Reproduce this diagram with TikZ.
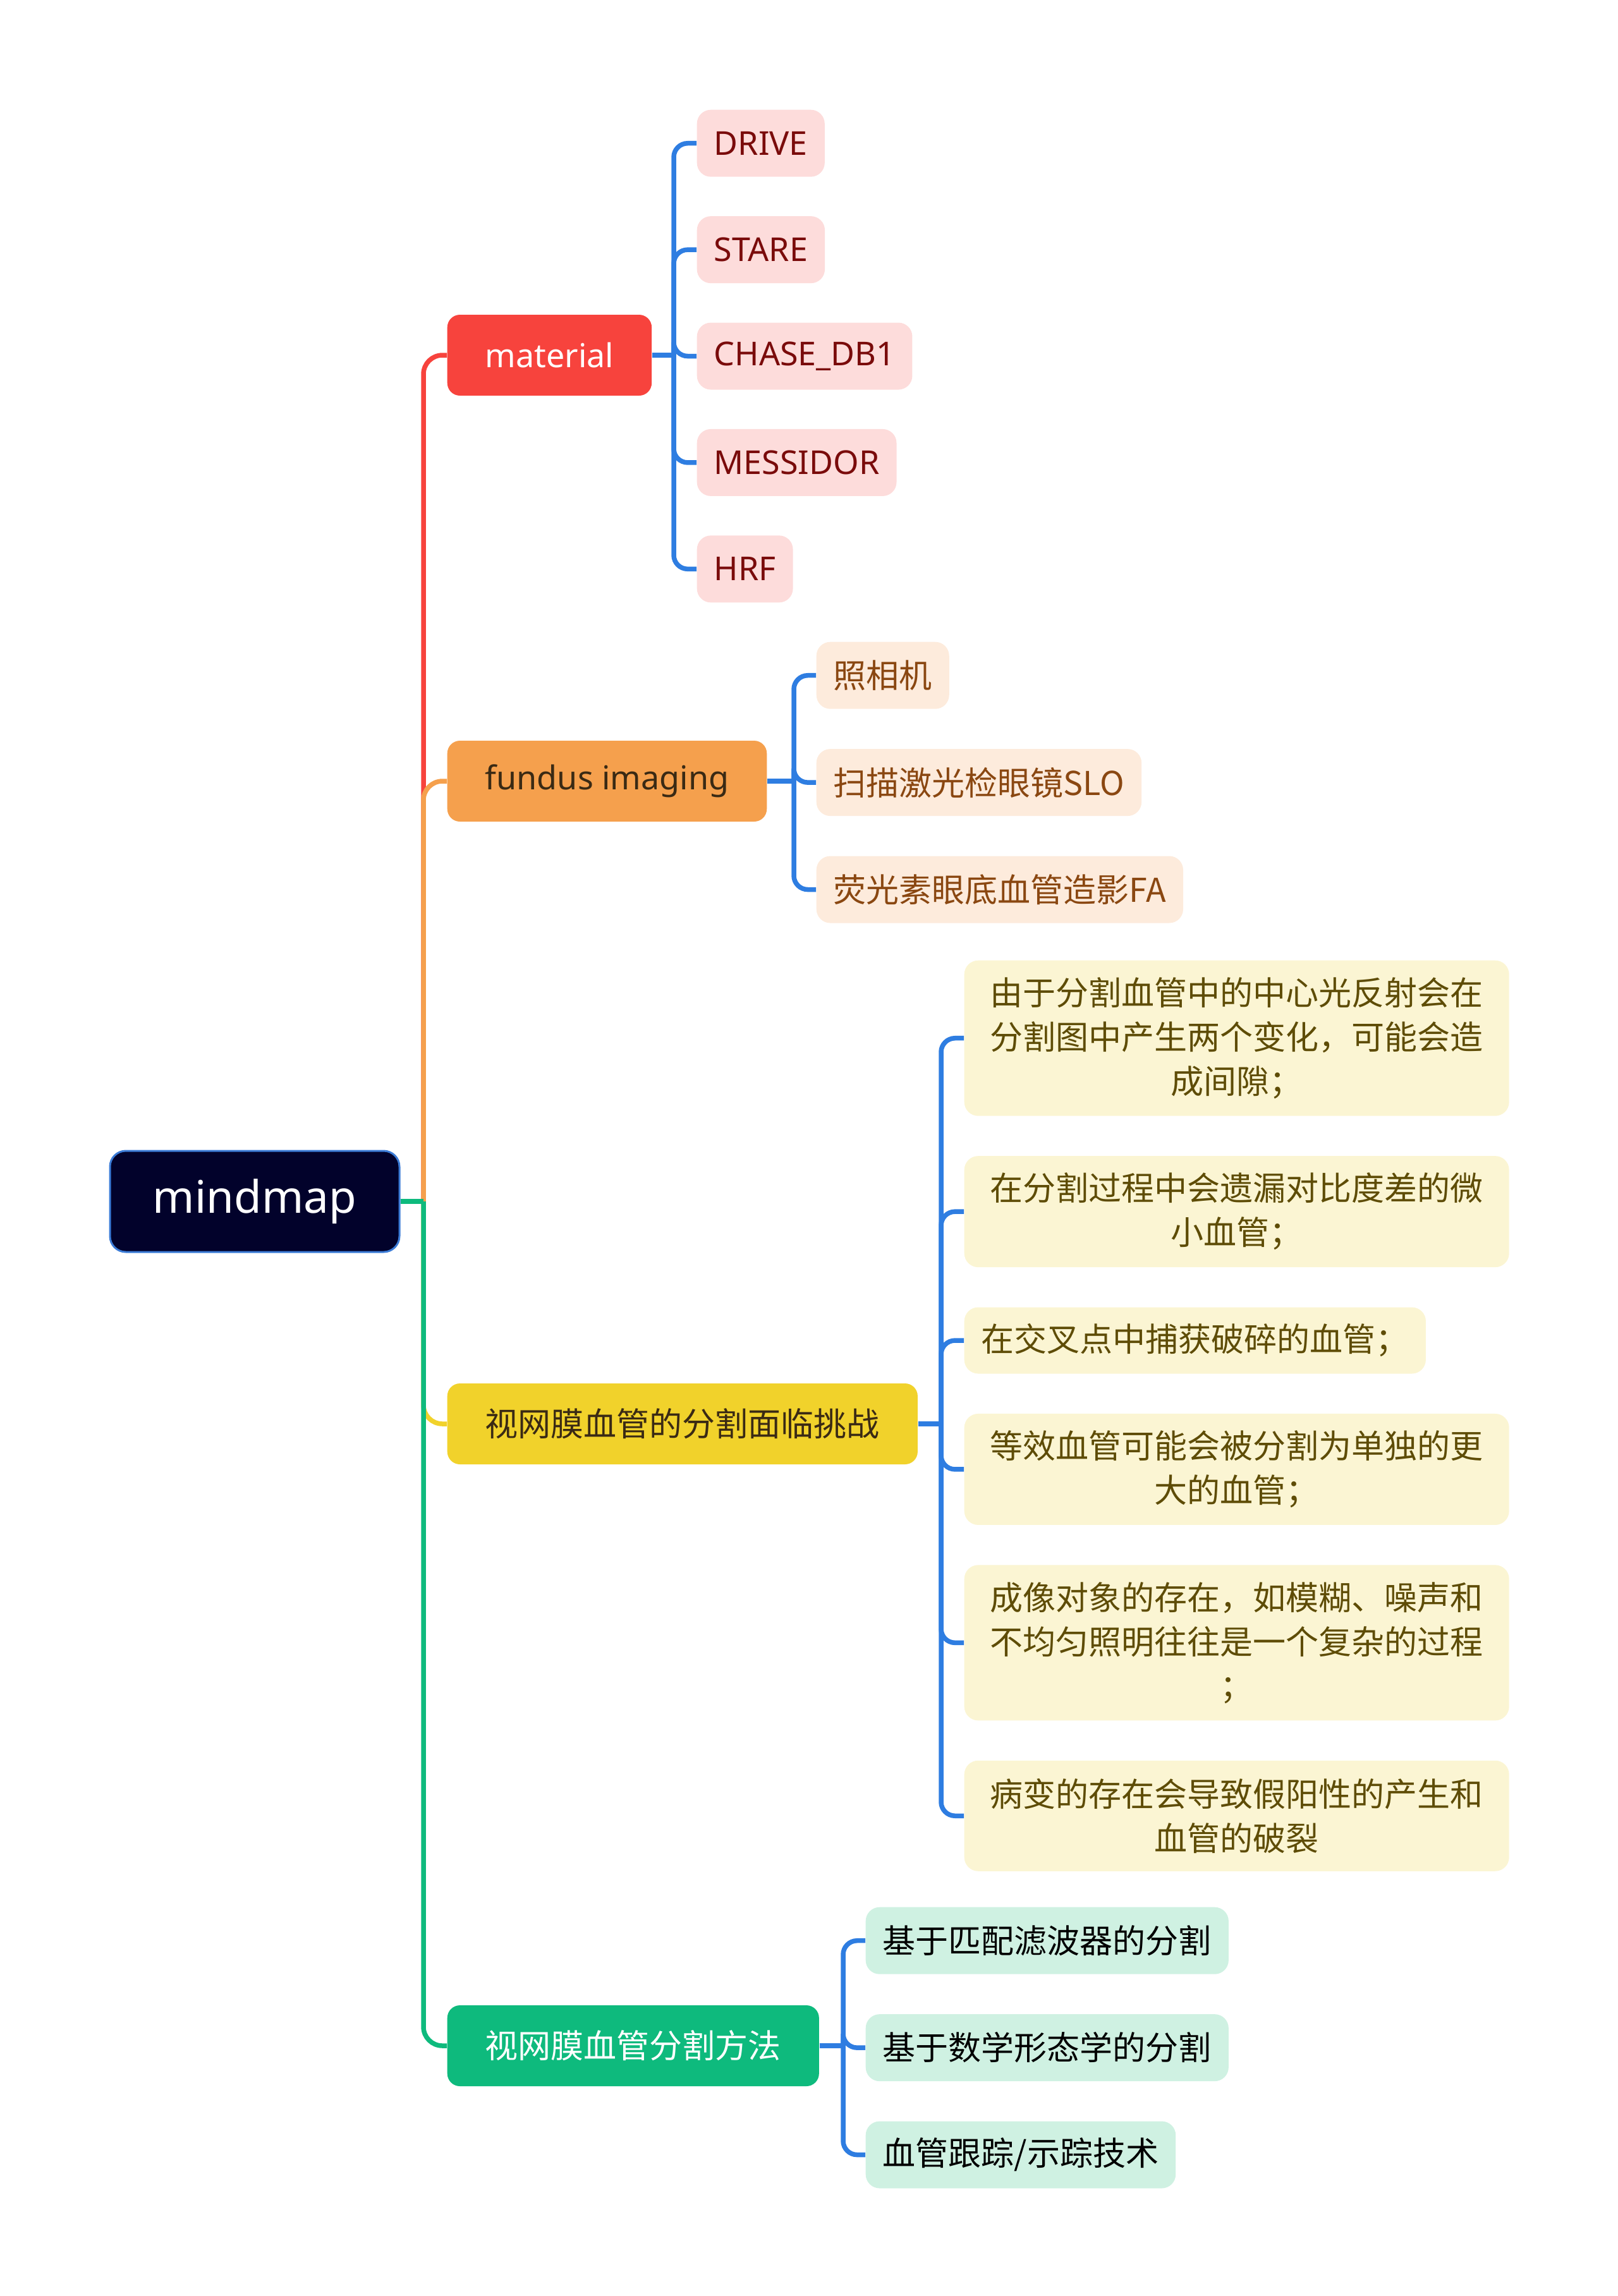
\documentclass[tikz,border=0pt]{standalone}
\usepackage{fontspec}
\setmainfont{Noto Sans CJK SC}
\newfontfamily\latinfont{Noto Sans}
\usetikzlibrary{positioning}

\definecolor{rootfill}{HTML}{02022B}
\definecolor{rootline}{HTML}{3B7BD6}
\definecolor{matred}{HTML}{F7433D}
\definecolor{fundorange}{HTML}{F5A04D}
\definecolor{chalyellow}{HTML}{F1D22B}
\definecolor{methgreen}{HTML}{0EBA7D}
\definecolor{twigblue}{HTML}{2E7DE1}
\definecolor{matleaf}{HTML}{FDDCDB}
\definecolor{matink}{HTML}{7A0B0B}
\definecolor{fundleaf}{HTML}{FDEBDC}
\definecolor{fundink}{HTML}{8A4711}
\definecolor{challeaf}{HTML}{FBF5D3}
\definecolor{chalink}{HTML}{5E4C06}
\definecolor{methleaf}{HTML}{CFF1E2}
\definecolor{darkink}{HTML}{3A2A14}

\newcommand\leaffont{\fontsize{14.8pt}{19.9pt}\selectfont}
\newcommand\leaflatin{\latinfont\fontsize{14.8pt}{19.9pt}\selectfont}
\newcommand\rootfont{\latinfont\fontsize{20.2pt}{24pt}\selectfont}

\begin{document}
\begin{tikzpicture}[main node/.style={rounded corners=0.2cm, inner xsep=0.6cm,
        minimum height=1.28cm, anchor=west, font=\leaffont},
        leaf node/.style={rounded corners=0.22cm, inner xsep=0.27cm, inner ysep=0.2cm,
        minimum height=1.06cm, font=\leaffont},
        wide/.style={text width=8.08cm, align=center},
        branch/.style={line width=0.075cm, rounded corners=0.3cm},
        twig/.style={line width=0.075cm, draw=twigblue, rounded corners=0.22cm}
        ]
        \useasboundingbox (0,0) rectangle (25.6,-36.33);

        \node [fill=rootfill, draw=rootline, line width=0.03cm, rounded corners=0.25cm,
            minimum width=4.58cm, minimum height=1.6cm, text=white, font=\rootfont]
            (root) at (4.03,-19.01) {mindmap} ;

        \node [main node, fill=matred, text=white, font=\leaflatin] (mat) at (7.07,-5.62) {material} ;
        \node [main node, fill=fundorange, text=darkink, font=\leaflatin] (fund) at (7.07,-12.36) {fundus imaging} ;
        \node [main node, fill=chalyellow, text=darkink] (chal) at (7.07,-22.53) {视网膜血管的分割面临挑战} ;
        \node [main node, fill=methgreen, text=white] (meth) at (7.07,-32.37) {视网膜血管分割方法} ;

        % material
        \node [leaf node, fill=matleaf, text=matink, font=\leaflatin, anchor=north west] (drive) at (11.02,-1.73) {DRIVE} ;
        \node [leaf node, fill=matleaf, text=matink, font=\leaflatin, below=0.61cm of drive.south west, anchor=north west] (stare) {STARE} ;
        \node [leaf node, fill=matleaf, text=matink, font=\leaflatin, below=0.61cm of stare.south west, anchor=north west] (chase) {CHASE\_DB1} ;
        \node [leaf node, fill=matleaf, text=matink, font=\leaflatin, below=0.61cm of chase.south west, anchor=north west] (messidor) {MESSIDOR} ;
        \node [leaf node, fill=matleaf, text=matink, font=\leaflatin, below=0.61cm of messidor.south west, anchor=north west] (hrf) {HRF} ;

        % fundus imaging
        \node [leaf node, fill=fundleaf, text=fundink, anchor=north west] (cam) at (12.91,-10.15) {照相机} ;
        \node [leaf node, fill=fundleaf, text=fundink, below=0.62cm of cam.south west, anchor=north west] (slo) {扫描激光检眼镜SLO} ;
        \node [leaf node, fill=fundleaf, text=fundink, below=0.62cm of slo.south west, anchor=north west] (fa) {荧光素眼底血管造影FA} ;

        % challenges
        \node [leaf node, wide, fill=challeaf, text=chalink, minimum height=2.46cm, anchor=north west] (ch1) at (15.25,-15.19)
            {由于分割血管中的中心光反射会在\\分割图中产生两个变化，可能会造\\成间隙；} ;
        \node [leaf node, wide, fill=challeaf, text=chalink, minimum height=1.76cm, below=0.62cm of ch1.south west, anchor=north west] (ch2)
            {在分割过程中会遗漏对比度差的微\\小血管；} ;
        \node [leaf node, fill=challeaf, text=chalink, minimum height=1.05cm, below=0.62cm of ch2.south west, anchor=north west] (ch3)
            {在交叉点中捕获破碎的血管；} ;
        \node [leaf node, wide, fill=challeaf, text=chalink, minimum height=1.76cm, below=0.62cm of ch3.south west, anchor=north west] (ch4)
            {等效血管可能会被分割为单独的更\\大的血管；} ;
        \node [leaf node, wide, fill=challeaf, text=chalink, minimum height=2.46cm, below=0.62cm of ch4.south west, anchor=north west] (ch5)
            {成像对象的存在，如模糊、噪声和\\不均匀照明往往是一个复杂的过程\\；} ;
        \node [leaf node, wide, fill=challeaf, text=chalink, minimum height=1.75cm, below=0.62cm of ch5.south west, anchor=north west] (ch6)
            {病变的存在会导致假阳性的产生和\\血管的破裂} ;

        % methods
        \node [leaf node, fill=methleaf, text=black, anchor=north west] (me1) at (13.69,-30.17) {基于匹配滤波器的分割} ;
        \node [leaf node, fill=methleaf, text=black, below=0.62cm of me1.south west, anchor=north west] (me2) {基于数学形态学的分割} ;
        \node [leaf node, fill=methleaf, text=black, below=0.62cm of me2.south west, anchor=north west] (me3) {血管跟踪/示踪技术} ;

        % trunk
        \coordinate (rj) at (6.70,-19.01) ;
        \draw [branch, draw=matred] (rj) |- (mat.west) ;
        \draw [branch, draw=fundorange] (rj) |- (fund.west) ;
        \draw [branch, draw=chalyellow] (rj) |- (chal.west) ;
        \draw [branch, draw=methgreen] (rj) |- (meth.west) ;
        \draw [branch, draw=methgreen] (root.east) -- (rj) ;

        % blue twigs
        \coordinate (matj) at (10.66,-5.62) ;
        \coordinate (fundj) at (12.56,-12.36) ;
        \coordinate (chalj) at (14.89,-22.53) ;
        \coordinate (methj) at (13.34,-32.37) ;
        \draw [twig] (mat.east) -- (matj) ;
        \draw [twig] (fund.east) -- (fundj) ;
        \draw [twig] (chal.east) -- (chalj) ;
        \draw [twig] (meth.east) -- (methj) ;
        \foreach \leaf in {drive,stare,chase,messidor,hrf}
            \draw [twig] (matj) |- (\leaf.west) ;
        \foreach \leaf in {cam,slo,fa}
            \draw [twig] (fundj) |- (\leaf.west) ;
        \foreach \leaf in {ch1,ch2,ch3,ch4,ch5,ch6}
            \draw [twig] (chalj) |- (\leaf.west) ;
        \foreach \leaf in {me1,me2,me3}
            \draw [twig] (methj) |- (\leaf.west) ;
     \end{tikzpicture}
\end{document}
